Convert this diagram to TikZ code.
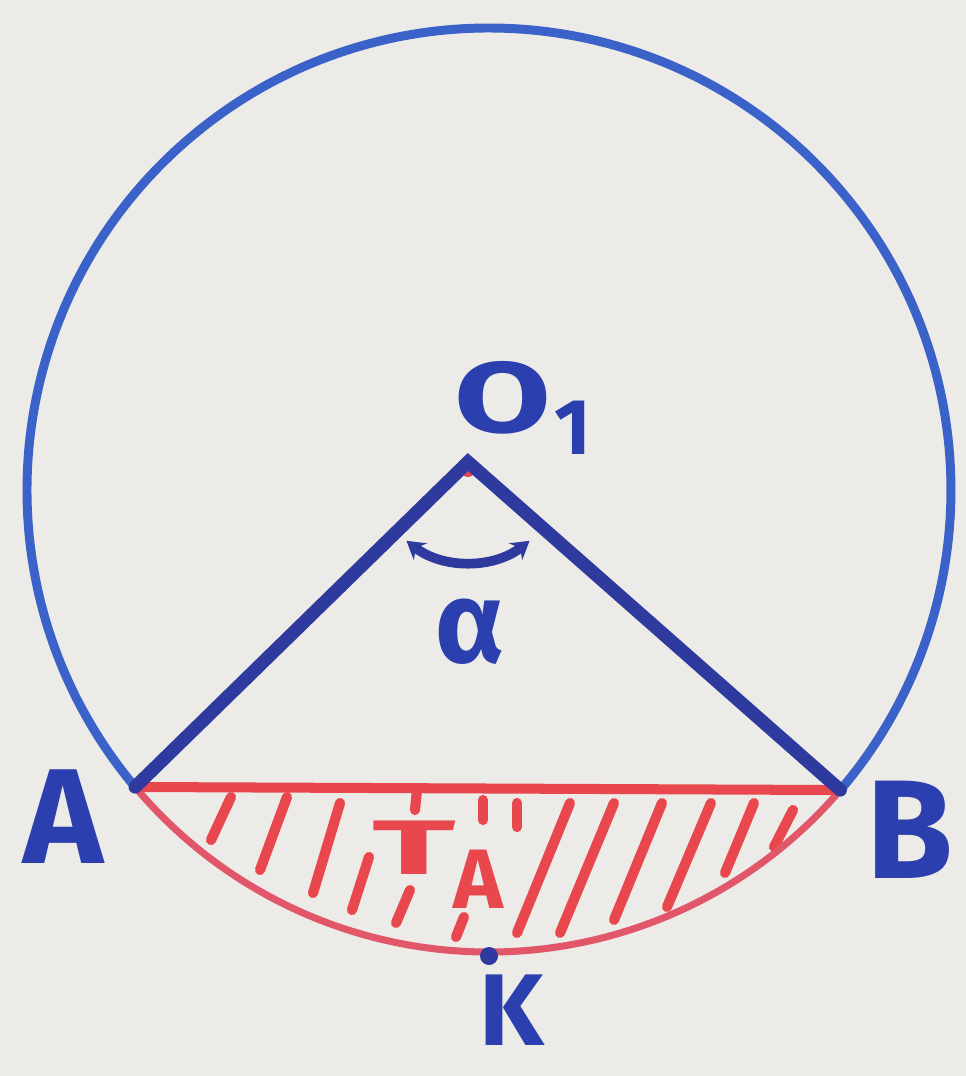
\documentclass[tikz,border=0pt]{standalone}
\usepackage{fontspec}
\setmainfont{Fira Sans}
\usetikzlibrary{arrows.meta}
\definecolor{paper}{HTML}{ECEBE7}
\definecolor{circblue}{HTML}{3A62C8}
\definecolor{navy}{HTML}{2E3A9E}
\definecolor{lblue}{HTML}{2C3FAF}
\definecolor{pen}{HTML}{E8474D}
\definecolor{arcred}{HTML}{E2566A}
\begin{document}
\begin{tikzpicture}[x=0.02cm,y=-0.02cm,
  circline/.style={draw=circblue,line width=5.1pt},
  radius line/.style={draw=navy,line width=7.5pt,line cap=round},
  chord/.style={draw=pen,line width=5.7pt,line cap=round},
  segarc/.style={draw=arcred,line width=4pt},
  hatch/.style={draw=pen,line width=5.8pt,line cap=round},
  lbl/.style={text=lblue,inner sep=0pt,font=\bfseries},
  redlbl/.style={text=pen,inner sep=0pt,font=\bfseries}]
\fill[paper] (0,0) rectangle (966,1076);
\useasboundingbox (0,0) rectangle (966,1076);
\coordinate (C) at (489,490);
\coordinate (O) at (468,462);
\coordinate (A) at ([shift={(140:462)}]C);
\coordinate (B) at ([shift={(40.5:462)}]C);
\coordinate (K) at ([shift={(90:462)}]C);
% hatching
\foreach \xa/\ya/\xb/\yb in {231/797/211/840, 287/797/260/870, 340/803/313/893,
   369/857/352/910, 410/890/396/923, 417/790/415/810, 483/800/483/820,
   517/803/517/827, 464/917/456/937, 570/803/517/933, 614/803/560/933,
   662/803/614/920, 711/803/667/907, 754/803/725/873, 793/810/774/847}
  \draw[hatch] (\xa,\ya) -- (\xb,\yb);
% red segment
\draw[segarc] (A) arc[start angle=140,end angle=40.5,radius=462];
\draw[chord] (A) -- (B);
% blue circle (major arc)
\draw[circline] (A) arc[start angle=140,end angle=400.5,radius=462];
% radii
\fill[pen] (O) ++(0,8) circle (7);
\draw[radius line] (A) -- (O) -- (B);
% angle mark
\draw[draw=navy,line width=5.5pt,{Stealth[length=10pt,width=12pt]}-{Stealth[length=10pt,width=12pt]}]
  ([shift={(128:100)}]O) arc[start angle=128,end angle=52,radius=100];
% point K
\fill[navy] (K) ++(0,4) circle (9);
% labels
\node[lbl,font=\fontsize{77}{80}\selectfont\bfseries] (la) at (63,817) {A};
\node[lbl,font=\fontsize{80}{84}\selectfont\bfseries] (lb) at (910,830) {B};
\node[lbl,font=\fontsize{58}{62}\selectfont\bfseries] (lk) at (512,1010) {K};
\node[lbl,font=\fontsize{57}{60}\selectfont\bfseries,xscale=1.4] (lo) at (503,398) {O};
\node[lbl,font=\fontsize{45}{48}\selectfont\bfseries] (l1) at (573,428) {1};
\node[lbl,font=\fontsize{66}{70}\selectfont\bfseries] (lal) at (470,632) {α};
\node[redlbl,font=\fontsize{44}{46}\selectfont\bfseries,xscale=2.0] (lt) at (414,848) {T};
\node[redlbl,font=\fontsize{48}{50}\selectfont\bfseries] (lta) at (478,879) {A};
\end{tikzpicture}
\end{document}
